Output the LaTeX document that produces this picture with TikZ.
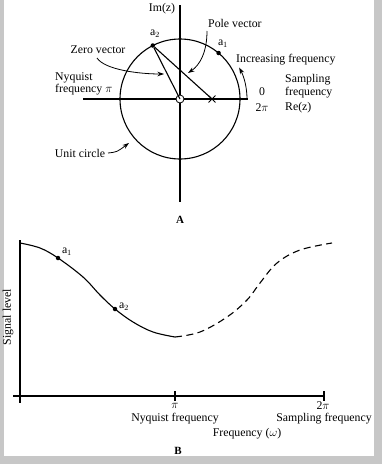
\documentclass[tikz,border=0pt]{standalone}
\usepackage{fontspec}
\setmainfont{Liberation Serif}
\usetikzlibrary{arrows.meta,shapes.misc}
\begin{document}
\begin{tikzpicture}[x=1pt,y=-1pt,
  ln/.style={line width=1.1pt},
  lbl/.style={inner sep=0pt,font=\fontsize{11.8}{12.5}\selectfont},
  dotn/.style={circle,fill=black,inner sep=0pt,minimum size=4.5pt},
  arr/.style={line width=0.8pt,-{Stealth[length=6.5pt,width=4.5pt]}},
]
\useasboundingbox (0,0) rectangle (382,464);
\fill[black!22] (0,0) rectangle (382,464);
\fill[white] (4,0) rectangle (374,456);
% ---------- A: z-plane ----------
\coordinate (O) at (180,99);
\draw[ln] (O) circle (60pt);
\draw[ln] (83,99) coordinate (xl) -- (248,99) coordinate (xr);
\draw[ln] (180,5) coordinate (yt) -- (180,202) coordinate (yb);
\node[draw,circle,line width=0.8pt,fill=white,inner sep=0pt,minimum size=8pt] (zero) at (O) {};
\node[cross out,draw,line width=0.9pt,inner sep=0pt,minimum size=6pt] (pole) at (212,99) {};
\node[dotn] (a2p) at (152.8,45.5) {};
\node[dotn] (a1p) at (218.6,53) {};
\draw[ln] (a2p) -- (zero.center);
\draw[ln] (a2p) -- (pole.center);
\node[lbl] (imz) at (162,9) {Im(z)};
\node[lbl] (a2l) at (155,34) {a$_2$};
\node[lbl] (a1l) at (223,44) {a$_1$};
\node[lbl,anchor=west] (polel) at (208,23) {Pole vector};
\node[lbl] (zerol) at (98,50) {Zero vector};
\node[lbl,align=left,anchor=west] (nyq) at (55,84) {Nyquist\\frequency $\pi$};
\node[lbl] (ucl) at (80,153) {Unit circle};
\node[lbl,anchor=west] (incl) at (236,60) {Increasing frequency};
\node[lbl] (zl) at (262,92) {0};
\node[lbl] (tpl) at (262,108) {2$\pi$};
\node[lbl,align=left,anchor=west] (samp) at (285,86) {Sampling\\frequency};
\node[lbl,anchor=west] (rez) at (285,108) {Re(z)};
\node[lbl,font=\fontsize{11}{12}\selectfont\bfseries] (A) at (180,220) {A};
\coordinate (pvs) at (207,31);
\coordinate (pve) at (188,73);
\draw[arr] (pvs) .. controls (207,52) and (200,65) .. (pve);
\coordinate (zvs) at (97,58);
\coordinate (zve) at (164,74);
\draw[arr] (zvs) .. controls (105,70) and (140,74) .. (zve);
\coordinate (ucs) at (108,153);
\coordinate (uce) at (129,143);
\draw[arr] (ucs) .. controls (117,152) .. (uce);
\draw[arr] (O) ++(0:67pt) coordinate (ifs) arc[start angle=0,end angle=28,radius=67pt] coordinate (ife);
% ---------- B: response ----------
\coordinate (org) at (20,396);
\draw[ln] (20,240) coordinate (yat) -- (20,403) coordinate (yab);
\draw[ln] (13,396) coordinate (xal) -- (325,396) coordinate (xar);
\draw[ln] (175,391) coordinate (t1a) -- (175,401) coordinate (t1b);
\draw[ln] (324,391) coordinate (t2a) -- (324,401) coordinate (t2b);
\draw[ln] plot[smooth,tension=0.6] coordinates {(20,243) (40,248) (58,258) (83,277) (100,295) (115,309) (133,322) (153,332) (175,337)};
\draw[ln,dash pattern=on 7pt off 4.5pt] plot[smooth,tension=0.6] coordinates {(175,337) (200,332) (227,317) (247,300) (260,283) (277,263) (300,250) (332,243)};
\node[dotn] (b1) at (58,258) {};
\node[dotn] (b2) at (115,309) {};
\node[lbl] (b1l) at (67,252) {a$_1$};
\node[lbl] (b2l) at (124,307) {a$_2$};
\node[lbl,rotate=90] (sig) at (8,317) {Signal level};
\node[lbl] (pil) at (175,406) {$\pi$};
\node[lbl] (nyql) at (175,419) {Nyquist frequency};
\node[lbl] (tpil) at (323,406) {2$\pi$};
\node[lbl] (sampl) at (324,419) {Sampling frequency};
\node[lbl] (freq) at (247,434) {Frequency ($\omega$)};
\node[lbl,font=\fontsize{11}{12}\selectfont\bfseries] (B) at (178,451) {B};
\end{tikzpicture}
\end{document}
